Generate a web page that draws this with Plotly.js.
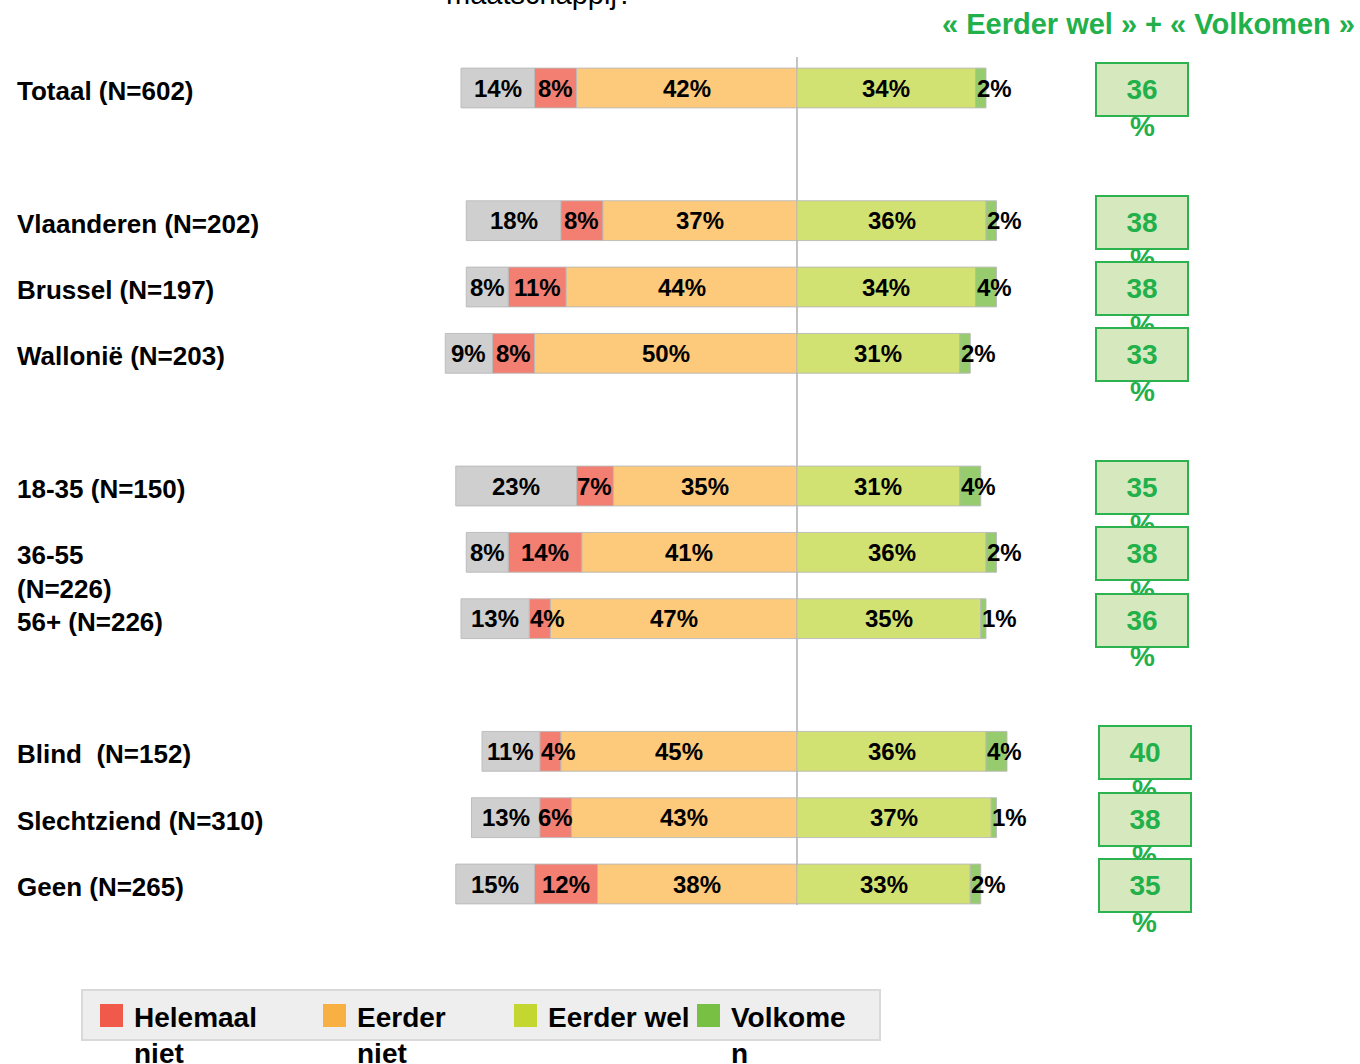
<!DOCTYPE html>
<html>
<head>
<meta charset="utf-8">
<script src="https://cdn.plot.ly/plotly-3.0.1.min.js"></script>
<style>
  html, body { margin: 0; padding: 0; background: #ffffff; }
  #chart { width: 1360px; height: 1064px; }
</style>
</head>
<body>
<div id="chart"></div>
<script>
// ---------------- DATA ----------------
const categories = ['Totaal (N=602)', 'Vlaanderen (N=202)', 'Brussel (N=197)', 'Wallonië (N=203)',
                    '18-35 (N=150)', '36-55 (N=226)', '56+ (N=226)',
                    'Blind  (N=152)', 'Slechtziend (N=310)', 'Geen (N=265)'];
const rowLabels = ['Totaal (N=602)', 'Vlaanderen (N=202)', 'Brussel (N=197)', 'Wallonië (N=203)',
                   '18-35 (N=150)', '36-55<br>(N=226)', '56+ (N=226)',
                   'Blind  (N=152)', 'Slechtziend (N=310)', 'Geen (N=265)'];
// row order including empty spacer rows between groups
const categoryOrder = ['Totaal (N=602)', ' ', 'Vlaanderen (N=202)', 'Brussel (N=197)', 'Wallonië (N=203)', '  ',
                       '18-35 (N=150)', '36-55 (N=226)', '56+ (N=226)', '   ',
                       'Blind  (N=152)', 'Slechtziend (N=310)', 'Geen (N=265)'];

const weetNiet     = [14, 18, 8, 9, 23, 8, 13, 11, 13, 15];
const helemaalNiet = [8, 8, 11, 8, 7, 14, 4, 4, 6, 12];
const eerderNiet   = [42, 37, 44, 50, 35, 41, 47, 45, 43, 38];
const eerderWel    = [34, 36, 34, 31, 31, 36, 35, 36, 37, 33];
const volkomen     = [2, 2, 4, 2, 4, 2, 1, 4, 1, 2];
const welPlusVolkomen = [36, 38, 38, 33, 35, 38, 36, 40, 38, 35];

const legendLabels = ['Helemaal<br>niet', 'Eerder<br>niet', 'Eerder wel', 'Volkome<br>n'];
const titleText = 'maatschappij?';
const boxHeader = '« Eerder wel » + « Volkomen »';

// ---------------- STYLE / LAYOUT CONSTANTS ----------------
const FONT = '"Liberation Sans", Arial, sans-serif';
const GREEN_TXT = '#22b04b';
const barColors = { weet: '#cfcfcf', hel: '#f27f72', eNiet: '#fdc97b', eWel: '#d2e272', volk: '#97cc6e' };
const legendColors = ['#f15a4a', '#f9b042', '#c3d730', '#78c043'];
const legendPx = [100, 323, 514, 697];   // swatch left edges (px)

const L = 340, R = 20, T = 57, B = 159;
const FIG_W = 1360, FIG_H = 1064;
const plotW = FIG_W - L - R, plotH = FIG_H - T - B;
const px2x = X => (X - L) / plotW;
const px2y = Y => (T + plotH - Y) / plotH;
const PX_PER_PCT = 5.25, ZERO_PX = 797;
const xRange = [-(ZERO_PX - L) / PX_PER_PCT, (FIG_W - R - ZERO_PX) / PX_PER_PCT];
const yRange = [categoryOrder.length - 1 + (905 - 884) / 66.33, -(88 - 57) / 66.33];

const idx = c => categoryOrder.indexOf(c);
const neg = a => a.map(v => -v);
const line = { color: 'rgba(185,185,185,0.9)', width: 1 };

function barTrace(name, vals, color) {
  return { type: 'bar', orientation: 'h', name: name, y: categories, x: vals,
           marker: { color: color, line: line }, hoverinfo: 'x+y', showlegend: false };
}

const traces = [
  barTrace('Eerder niet', neg(eerderNiet), barColors.eNiet),
  barTrace('Helemaal niet', neg(helemaalNiet), barColors.hel),
  barTrace('Weet niet', neg(weetNiet), barColors.weet),
  barTrace('Eerder wel', eerderWel, barColors.eWel),
  barTrace('Volkomen', volkomen, barColors.volk)
];

// ---------------- ANNOTATIONS ----------------
const annotations = [];
const valFont = { family: FONT, size: 24, color: '#000000' };

function segLabel(i, start, end, v) {
  // start/end in data coordinates (start = left edge)
  const small = v <= 4;
  annotations.push({
    xref: 'x', yref: 'y', x: small ? start : (start + end) / 2, y: idx(categories[i]),
    xanchor: small ? 'left' : 'center', yanchor: 'middle', showarrow: false,
    text: '<b>' + v + '%</b>', font: valFont, borderpad: 0
  });
}

categories.forEach((c, i) => {
  const e = eerderNiet[i], h = helemaalNiet[i], w = weetNiet[i];
  segLabel(i, -(e + h + w), -(e + h), w);
  segLabel(i, -(e + h), -e, h);
  segLabel(i, -e, 0, e);
  segLabel(i, 0, eerderWel[i], eerderWel[i]);
  segLabel(i, eerderWel[i], eerderWel[i] + volkomen[i], volkomen[i]);

  // row label
  annotations.push({
    xref: 'paper', yref: 'y', x: px2x(15), y: idx(c), xanchor: 'left', yanchor: 'top',
    yshift: 14, align: 'left', showarrow: false, text: '<b>' + rowLabels[i] + '</b>',
    font: { family: FONT, size: 26, color: '#000000' }
  });
});

// green summary boxes (box then "%", so the next box covers the previous "%")
categories.forEach((c, i) => {
  const xc = i >= 7 ? px2x(1144.5) : px2x(1142);
  annotations.push({
    xref: 'paper', yref: 'y', x: xc, y: idx(c), xanchor: 'center', yanchor: 'middle',
    yshift: -1.5, showarrow: false, text: '<b>' + welPlusVolkomen[i] + '</b>',
    font: { family: FONT, size: 28, color: GREEN_TXT },
    bgcolor: '#d6e9be', bordercolor: '#2cb24e', borderwidth: 2, borderpad: 0,
    width: 90, height: 51, valign: 'middle'
  });
  annotations.push({
    xref: 'paper', yref: 'y', x: xc, y: idx(c), xanchor: 'center', yanchor: 'middle',
    yshift: -38, showarrow: false, text: '<b>%</b>',
    font: { family: FONT, size: 28, color: GREEN_TXT }
  });
});

// header above boxes
annotations.push({
  xref: 'paper', yref: 'paper', x: px2x(1148), y: px2y(24), xanchor: 'center', yanchor: 'middle',
  showarrow: false, text: '<b>' + boxHeader + '</b>',
  font: { family: FONT, size: 29, color: GREEN_TXT }
});

// partially visible chart title at the very top
annotations.push({
  xref: 'paper', yref: 'paper', x: px2x(444), y: px2y(-6), xanchor: 'left', yanchor: 'middle',
  showarrow: false, text: titleText, font: { family: FONT, size: 29, color: '#000000' }
});

// ---------------- LEGEND (drawn manually) ----------------
const shapes = [{
  type: 'rect', xref: 'paper', yref: 'paper', x0: px2x(82), x1: px2x(880), y0: px2y(1040), y1: px2y(990),
  fillcolor: '#eeeeee', line: { color: '#d9d9d9', width: 2 }, layer: 'below'
}];
legendLabels.forEach((lab, k) => {
  const xl = legendPx[k];
  shapes.push({
    type: 'rect', xref: 'paper', yref: 'paper', x0: px2x(xl), x1: px2x(xl + 23),
    y0: px2y(1027), y1: px2y(1004), fillcolor: legendColors[k], line: { width: 0 }
  });
  annotations.push({
    xref: 'paper', yref: 'paper', x: px2x(xl + 32), y: px2y(1016), xanchor: 'left', yanchor: 'top',
    yshift: 16, align: 'left', showarrow: false, text: '<b>' + lab + '</b>',
    font: { family: FONT, size: 28, color: '#000000' }
  });
});

const layout = {
  width: FIG_W, height: FIG_H,
  margin: { l: L, r: R, t: T, b: B, pad: 0 },
  paper_bgcolor: '#ffffff', plot_bgcolor: 'rgba(0,0,0,0)',
  barmode: 'relative', bargap: 0.4,
  showlegend: false,
  font: { family: FONT, size: 22, color: '#000000' },
  xaxis: { range: xRange, showgrid: false, showticklabels: false, ticks: '',
           zeroline: true, zerolinecolor: '#c4c4c4', zerolinewidth: 1.5, fixedrange: true },
  yaxis: { type: 'category', categoryorder: 'array', categoryarray: categoryOrder,
           range: yRange, showgrid: false, showticklabels: false, ticks: '', zeroline: false,
           showline: false, fixedrange: true },
  annotations: annotations,
  shapes: shapes
};

Plotly.newPlot('chart', traces, layout, { displayModeBar: false, staticPlot: true });
</script>
</body>
</html>
